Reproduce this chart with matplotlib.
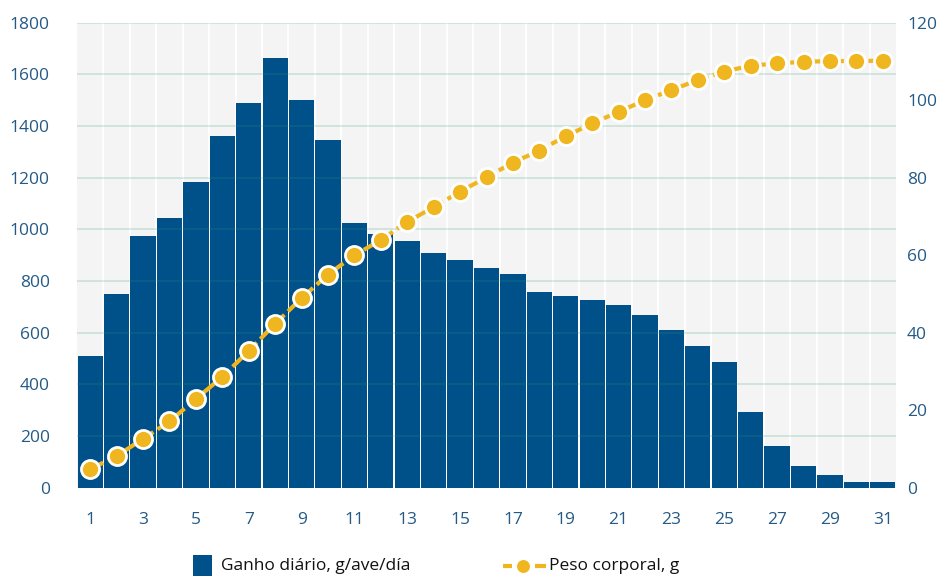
import matplotlib
matplotlib.use("Agg")
import matplotlib.pyplot as plt
from matplotlib.lines import Line2D
from matplotlib.patches import Rectangle
import numpy as np

# Días de crianza
days = list(range(1, 32))

# Ganho diário (g/ave/día)
daily_gain = [510, 750, 975, 1045, 1185, 1360, 1490, 1665, 1502, 1347,
              1026, 983, 956, 910, 880, 852, 826, 759, 743, 728,
              708, 670, 612, 550, 488, 292, 160, 83, 50, 24, 24]

# Peso corporal (g)
body_weight = [4.8, 8.2, 12.6, 17.1, 22.9, 28.6, 35.3, 42.3, 48.9, 55.0,
               60.0, 63.9, 68.6, 72.4, 76.4, 80.1, 83.9, 87.0, 90.7, 94.0,
               97.0, 100.0, 102.6, 105.2, 107.4, 108.9, 109.5, 109.9, 110.1, 110.1, 110.2]

left_ticks = [0, 200, 400, 600, 800, 1000, 1200, 1400, 1600, 1800]
right_ticks = [0, 20, 40, 60, 80, 100, 120]
x_tick_days = list(range(1, 32, 2))

series_labels = ["Ganho diário, g/ave/día", "Peso corporal, g"]

bar_color = "#00508a"
line_color = "#f0b61f"
tick_color = "#245a86"
bg_color = "#f4f4f4"
grid_color = "#2e9a78"

plt.rcParams["font.family"] = ["Open Sans", "DejaVu Sans"]

W, H = 938, 577
fig = plt.figure(figsize=(W / 100, H / 100), dpi=100)
ax = fig.add_axes([77 / W, 1 - 487.7 / H, (896 - 77) / W, (487.7 - 22.7) / H])
ax.set_facecolor(bg_color)

x = np.arange(len(days))
ax.bar(x, daily_gain, width=0.955, color=bar_color, zorder=2)

# separadores verticales blancos entre días
for b in np.arange(0.5, len(days) - 1, 1.0):
    ax.axvline(b, color="white", lw=1.4, zorder=1)

# líneas horizontales de la cuadrícula, por encima de las barras
for t in left_ticks[1:]:
    ax.axhline(t, color=grid_color, alpha=0.2, lw=1.3, zorder=3)

ax.set_xlim(-0.5, len(days) - 0.5)
ax.set_ylim(0, 1800)
ax.set_yticks(left_ticks)
ax.set_xticks([d - 1 for d in x_tick_days])
ax.set_xticklabels([str(d) for d in x_tick_days])
ax.tick_params(axis="y", length=0, pad=19.5, labelsize=12.5, labelcolor=tick_color)
ax.tick_params(axis="x", length=0, pad=17.5, labelsize=12.5, labelcolor=tick_color)
for s in ax.spines.values():
    s.set_visible(False)

ax2 = ax.twinx()
ax2.plot(x, body_weight, color=line_color, lw=3, dashes=(3.5, 1.2),
         marker="o", markersize=13, markerfacecolor=line_color,
         markeredgecolor="white", markeredgewidth=2, zorder=5)
ax2.set_ylim(0, 120)
ax2.set_yticks(right_ticks)
ax2.tick_params(axis="y", length=0, pad=8, labelsize=12.5, labelcolor=tick_color)
for s in ax2.spines.values():
    s.set_visible(False)

# leyenda dibujada en coordenadas de la figura (píxeles)
def fx(px):
    return px / W

def fy(py):
    return 1 - py / H

ly = 565.5
fig.add_artist(Rectangle((fx(192.7), fy(576)), 19.8 / W, 21 / H,
                         facecolor=bar_color, edgecolor="none",
                         transform=fig.transFigure))
fig.text(fx(221), fy(ly), series_labels[0], fontsize=12.5, color="#111111",
         ha="left", va="center")

for seg in ([503, 511.5], [535, 546]):
    fig.add_artist(Line2D([fx(seg[0]), fx(seg[1])], [fy(ly), fy(ly)],
                          color=line_color, lw=3, solid_capstyle="butt",
                          transform=fig.transFigure))
fig.add_artist(Line2D([fx(522.5)], [fy(ly)], marker="o", markersize=10.5,
                      markerfacecolor=line_color, markeredgecolor="white",
                      markeredgewidth=1.2, linestyle="none",
                      transform=fig.transFigure))
fig.text(fx(549), fy(ly), series_labels[1], fontsize=12.5, color="#111111",
         ha="left", va="center")

fig.savefig("out.png", dpi=100)
